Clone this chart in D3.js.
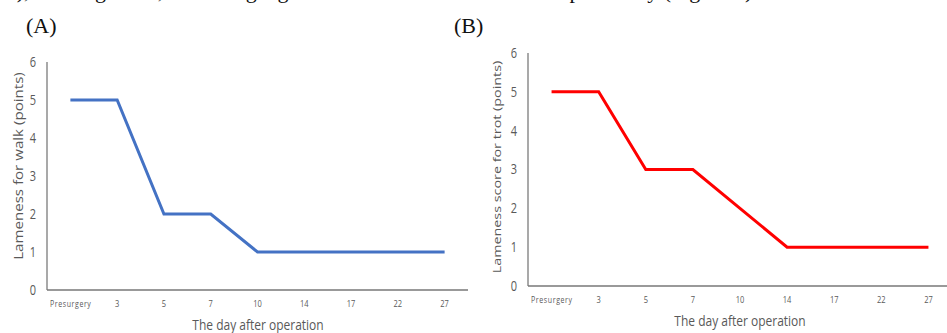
<!DOCTYPE html>
<html>
<head>
<meta charset="utf-8">
<script src="https://cdn.jsdelivr.net/npm/d3@7"></script>
<style>
  body { margin: 0; background: #fff; }
  svg { display: block; }
  .tick-lab { fill: #595959; font-family: "Open Sans", sans-serif; }
</style>
</head>
<body>
<svg id="chart"></svg>
<script>
const width = 947;
const height = 333;

// data
const days = ["Presurgery", "3", "5", "7", "10", "14", "17", "22", "27"];
const walkScores = [5, 5, 2, 2, 1, 1, 1, 1, 1];
const trotScores = [5, 5, 3, 3, 2, 1, 1, 1, 1];
const yTicks = [0, 1, 2, 3, 4, 5, 6];

// the figure in the paper is stretched vertically
const stretch = 1.28;

const svg = d3.select('#chart').attr('width', width).attr('height', height);

// cut-off line of paper text at the very top
svg.append('text')
  .attr('x', 2).attr('y', -2)
  .style('font-family', '"Liberation Serif", serif')
  .style('font-size', '22px')
  .attr('fill', '#111')
  .text('ts), walking score, indicating a good result and trot score was improved by (Figure 4).');

function drawPanel(p) {
  const x = d3.scaleBand().domain(days).range([p.x0, p.x1]);
  const y = d3.scaleLinear().domain([0, 6]).range([p.yBottom, p.yTop]);

  svg.append('text')
    .attr('x', p.labelX).attr('y', 33)
    .style('font-family', '"Liberation Serif", serif')
    .style('font-size', '22px')
    .attr('fill', '#111')
    .text(p.label);

  // y axis line
  svg.append('line')
    .attr('x1', p.x0).attr('x2', p.x0)
    .attr('y1', y(6)).attr('y2', y(0))
    .attr('stroke', '#8c8c8c').attr('stroke-width', 1.5);
  // x axis line
  svg.append('line')
    .attr('x1', p.x0).attr('x2', p.x1)
    .attr('y1', y(0)).attr('y2', y(0))
    .attr('stroke', '#777').attr('stroke-width', 1.5);

  svg.selectAll(null).data(yTicks).enter().append('text')
    .attr('class', 'tick-lab')
    .attr('transform', d => `translate(${p.x0 - 14},${y(d)}) scale(1,${stretch})`)
    .attr('dy', '0.35em')
    .attr('text-anchor', 'middle')
    .style('font-size', '11px')
    .text(d => d);

  svg.selectAll(null).data(days).enter().append('text')
    .attr('class', 'tick-lab')
    .attr('transform', d => `translate(${x(d) + x.bandwidth() / 2},${p.yBottom + 14}) scale(1,${stretch})`)
    .attr('dy', '0.35em')
    .attr('text-anchor', 'middle')
    .style('font-size', d => d === 'Presurgery' ? '7px' : '7.5px')
    .attr('textLength', d => d === 'Presurgery' ? 41 : null)
    .text(d => d);

  svg.append('text')
    .attr('class', 'tick-lab')
    .attr('transform', `translate(${p.xTitleX},${p.xTitleY}) scale(1,${stretch})`)
    .attr('text-anchor', 'middle')
    .style('font-size', '12px')
    .text('The day after operation');

  svg.append('text')
    .attr('class', 'tick-lab')
    .attr('transform', `translate(${p.yTitleX},${p.yTitleY}) rotate(-90) scale(${stretch},1)`)
    .attr('text-anchor', 'middle')
    .style('font-size', p.yTitleSize)
    .text(p.yTitle);

  const line = d3.line()
    .x((d, i) => x(days[i]) + x.bandwidth() / 2)
    .y(d => y(d));

  svg.append('path')
    .datum(p.values)
    .attr('fill', 'none')
    .attr('stroke', p.color)
    .attr('stroke-width', 3)
    .attr('d', line);
}

drawPanel({
  label: '(A)', labelX: 26,
  x0: 47, x1: 468, yTop: 62, yBottom: 290,
  xTitleX: 258, xTitleY: 330,
  yTitleX: 23, yTitleY: 166, yTitleSize: '11.8px',
  yTitle: 'Lameness for walk (points)',
  values: walkScores, color: '#4472c4'
});

drawPanel({
  label: '(B)', labelX: 454,
  x0: 528, x1: 952, yTop: 53, yBottom: 286,
  xTitleX: 740, xTitleY: 326,
  yTitleX: 501, yTitleY: 167, yTitleSize: '11.2px',
  yTitle: 'Lameness score for trot (points)',
  values: trotScores, color: '#ff0000'
});
</script>
</body>
</html>
